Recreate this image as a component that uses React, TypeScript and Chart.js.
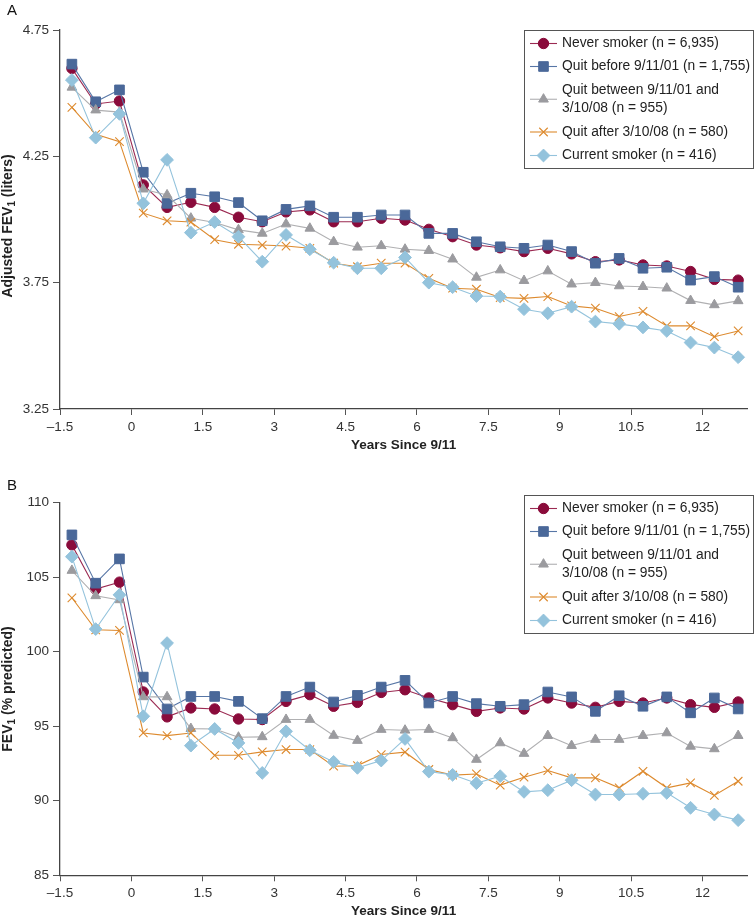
import React, { useEffect, useRef } from 'react';
import { Chart, registerables } from 'chart.js';
import { drawPoint } from 'chart.js/helpers';

Chart.register(...registerables);

const FONT = '"Liberation Sans", Arial, Helvetica, sans-serif';

// ---------- data ----------
const years = [
  -1.25, -0.75, -0.25, 0.25, 0.75, 1.25, 1.75, 2.25, 2.75, 3.25, 3.75, 4.25, 4.75, 5.25, 5.75,
  6.25, 6.75, 7.25, 7.75, 8.25, 8.75, 9.25, 9.75, 10.25, 10.75, 11.25, 11.75, 12.25, 12.75,
];

const xTickValues = [-1.5, 0, 1.5, 3, 4.5, 6, 7.5, 9, 10.5, 12];
const yTicksA = [3.25, 3.75, 4.25, 4.75];
const yTicksB = [85, 90, 95, 100, 105, 110];

const legendLabels = [
  ['Never smoker (n = 6,935)'],
  ['Quit before 9/11/01 (n = 1,755)'],
  ['Quit between 9/11/01 and', '3/10/08 (n = 955)'],
  ['Quit after 3/10/08 (n = 580)'],
  ['Current smoker (n = 416)'],
];

// y-axis titles: [before subscript, subscript, after subscript]
const yTitleA = ['Adjusted FEV', '1', ' (liters)'];
const yTitleB = ['FEV', '1', ' (% predicted)'];

// Panel A: Adjusted FEV1 (liters)
const neverA = [4.598, 4.457, 4.469, 4.137, 4.048, 4.068, 4.048, 4.009, 3.991, 4.03, 4.038, 3.991, 3.991, 4.005, 3.998, 3.961, 3.932, 3.899, 3.888, 3.873, 3.886, 3.864, 3.833, 3.84, 3.82, 3.816, 3.794, 3.763, 3.76];
const beforeA = [4.615, 4.466, 4.513, 4.187, 4.064, 4.104, 4.09, 4.067, 3.995, 4.04, 4.054, 4.009, 4.009, 4.018, 4.018, 3.945, 3.945, 3.912, 3.892, 3.886, 3.899, 3.873, 3.827, 3.846, 3.807, 3.811, 3.76, 3.774, 3.732];
const betweenA = [4.523, 4.433, 4.425, 4.12, 4.097, 4.005, 3.988, 3.959, 3.945, 3.982, 3.965, 3.912, 3.89, 3.896, 3.882, 3.877, 3.843, 3.771, 3.8, 3.758, 3.796, 3.744, 3.75, 3.737, 3.734, 3.728, 3.679, 3.662, 3.678];
const afterA = [4.444, 4.337, 4.308, 4.025, 3.995, 3.99, 3.92, 3.902, 3.899, 3.895, 3.886, 3.827, 3.813, 3.827, 3.827, 3.767, 3.728, 3.724, 3.691, 3.688, 3.695, 3.658, 3.649, 3.616, 3.636, 3.579, 3.579, 3.536, 3.559];
const currentA = [4.552, 4.324, 4.418, 4.064, 4.236, 3.948, 3.99, 3.932, 3.833, 3.939, 3.882, 3.829, 3.807, 3.807, 3.85, 3.75, 3.732, 3.697, 3.695, 3.645, 3.629, 3.655, 3.596, 3.587, 3.573, 3.559, 3.513, 3.493, 3.455];

// Panel B: FEV1 (% predicted)
const neverB = [107.17, 104.2, 104.67, 97.3, 95.63, 96.23, 96.16, 95.49, 95.45, 96.67, 97.12, 96.34, 96.6, 97.27, 97.45, 96.9, 96.45, 96.0, 96.23, 96.16, 96.9, 96.56, 96.27, 96.67, 96.56, 96.9, 96.45, 96.27, 96.63];
const beforeB = [107.84, 104.6, 106.23, 98.3, 96.16, 97.0, 97.0, 96.67, 95.51, 97.0, 97.63, 96.63, 97.07, 97.63, 98.08, 96.56, 97.0, 96.52, 96.34, 96.45, 97.3, 96.97, 96.0, 97.05, 96.34, 96.97, 95.9, 96.9, 96.16];
const betweenB = [105.45, 103.75, 103.48, 96.97, 96.97, 94.84, 94.82, 94.26, 94.29, 95.45, 95.45, 94.38, 94.04, 94.78, 94.73, 94.78, 94.22, 92.77, 93.88, 93.17, 94.37, 93.7, 94.11, 94.11, 94.37, 94.55, 93.65, 93.48, 94.37];
const afterB = [103.62, 101.47, 101.43, 94.55, 94.37, 94.55, 93.05, 93.05, 93.28, 93.44, 93.44, 92.32, 92.36, 93.1, 93.26, 92.1, 91.72, 91.8, 91.05, 91.58, 92.03, 91.54, 91.54, 90.87, 91.98, 90.87, 91.2, 90.36, 91.31];
const currentB = [106.38, 101.52, 103.82, 95.67, 100.58, 93.7, 94.82, 93.88, 91.87, 94.66, 93.39, 92.61, 92.21, 92.7, 94.15, 91.96, 91.74, 91.18, 91.65, 90.6, 90.71, 91.38, 90.42, 90.42, 90.47, 90.53, 89.53, 89.08, 88.7];

// ---------- styles ----------
const seriesStyles = [
  { pointStyle: 'circle', radius: 5.2, fill: '#8a0b3b', line: '#9b2a52', lineWidth: 1.1, bw: 1, order: 5 },
  { pointStyle: 'rect', radius: 6.8, fill: '#4a6899', line: '#5776a6', lineWidth: 1.1, bw: 1, order: 4 },
  { pointStyle: 'triangle', radius: 5.6, fill: '#9b9b9f', line: '#b0b0b2', lineWidth: 1.1, bw: 1, order: 3 },
  { pointStyle: 'crossRot', radius: 6, fill: '#dd8a2e', line: '#dd8a2e', lineWidth: 1.1, bw: 1.1, order: 2 },
  { pointStyle: 'rectRot', radius: 6.4, fill: '#94c3dc', line: '#94c3dc', lineWidth: 1.1, bw: 1, order: 1 },
];

function fmtTick(v: number): string {
  return v < 0 ? '\u2013' + String(Math.abs(v)) : String(v);
}

function buildDatasets(series: number[][]) {
  return series.map((vals, i) => {
    const st = seriesStyles[i];
    return {
      label: legendLabels[i].join(' '),
      data: vals.map((v, j) => ({ x: years[j], y: v })),
      borderColor: st.line,
      borderWidth: st.lineWidth,
      backgroundColor: st.fill,
      pointStyle: st.pointStyle,
      pointRadius: st.radius,
      pointBackgroundColor: st.fill,
      pointBorderColor: st.fill,
      pointBorderWidth: st.bw,
      order: st.order,
      tension: 0,
      fill: false,
    };
  });
}

const boxLegendPlugin = {
  id: 'boxLegend',
  afterDraw(chart: any, _args: any, opts: any) {
    const ctx = chart.ctx as CanvasRenderingContext2D;
    ctx.save();
    // panel letter
    ctx.fillStyle = '#111';
    ctx.font = `15px ${FONT}`;
    ctx.textBaseline = 'alphabetic';
    ctx.textAlign = 'left';
    ctx.fillText(opts.letter, 7, opts.letterY);

    // y-axis title with subscript
    const parts: string[] = opts.yTitle;
    const mainFont = `bold 14px ${FONT}`;
    const subFont = `bold 10px ${FONT}`;
    ctx.font = mainFont;
    const w0 = ctx.measureText(parts[0]).width;
    const w2 = ctx.measureText(parts[2]).width;
    ctx.font = subFont;
    const w1 = ctx.measureText(parts[1]).width;
    const total = w0 + w1 + w2;
    ctx.save();
    ctx.translate(opts.yTitleX, opts.yTitleCY);
    ctx.rotate(-Math.PI / 2);
    ctx.fillStyle = '#222';
    ctx.textBaseline = 'middle';
    let cx = -total / 2;
    ctx.font = mainFont;
    ctx.fillText(parts[0], cx, 0);
    cx += w0;
    ctx.font = subFont;
    ctx.fillText(parts[1], cx, 4);
    cx += w1;
    ctx.font = mainFont;
    ctx.fillText(parts[2], cx, 0);
    ctx.restore();

    const bx = 524.5;
    const bw = 229;
    const by = opts.top + 0.5;
    const bh = 138;
    ctx.fillStyle = '#ffffff';
    ctx.fillRect(bx, by, bw, bh);
    ctx.strokeStyle = '#555';
    ctx.lineWidth = 1;
    ctx.strokeRect(bx, by, bw, bh);

    const rowY = [13, 36, 60, 101.5, 125];
    const lineGap = 17.5;
    chart.data.datasets.forEach((_ds: any, i: number) => {
      const st = seriesStyles[i];
      const lines = legendLabels[i];
      const textTop = by + rowY[i];
      const my = textTop + ((lines.length - 1) * lineGap) / 2;
      ctx.strokeStyle = st.line;
      ctx.lineWidth = st.lineWidth;
      ctx.beginPath();
      ctx.moveTo(530, my);
      ctx.lineTo(557, my);
      ctx.stroke();
      ctx.fillStyle = st.fill;
      ctx.strokeStyle = st.fill;
      ctx.lineWidth = st.bw;
      drawPoint(ctx, { pointStyle: st.pointStyle, radius: st.radius, rotation: 0, borderWidth: st.bw } as any, 543.5, my);
      ctx.fillStyle = '#222';
      ctx.font = `13.8px ${FONT}`;
      ctx.textBaseline = 'middle';
      ctx.textAlign = 'left';
      lines.forEach((t, k) => ctx.fillText(t, 562, textTop + k * lineGap));
    });
    ctx.restore();
  },
};

function makeOptions(cfg: any) {
  return {
    animation: false,
    responsive: false,
    events: [],
    layout: { padding: { left: 0, top: cfg.padTop, right: 5, bottom: 0 } },
    plugins: {
      legend: { display: false },
      tooltip: { enabled: false },
      boxLegend: {
        top: cfg.legendTop, letter: cfg.letter, letterY: cfg.letterY,
        yTitle: cfg.yTitle, yTitleX: 8.5, yTitleCY: cfg.yTitleCY,
      },
    },
    scales: {
      x: {
        type: 'linear',
        min: -1.5,
        max: 12.94,
        afterBuildTicks: (s: any) => { s.ticks = xTickValues.map((v) => ({ value: v })); },
        afterFit: (s: any) => { s.height = cfg.xAxisH; },
        grid: { display: true, drawOnChartArea: false, drawTicks: true, tickLength: 6, color: '#555', lineWidth: 1 },
        border: { display: true, color: '#444', width: 1.3 },
        ticks: {
          color: '#333', font: { size: 13.5, family: FONT }, padding: 4,
          maxRotation: 0, autoSkip: false, callback: (v: any) => fmtTick(Number(v)),
        },
        title: {
          display: true, text: 'Years Since 9/11', color: '#222',
          font: { size: 13.5, weight: 'bold', family: FONT }, padding: { top: 0, bottom: cfg.titlePB },
        },
      },
      y: {
        type: 'linear',
        min: cfg.yMin,
        max: cfg.yMax,
        afterBuildTicks: (s: any) => { s.ticks = cfg.yTicks.map((v: number) => ({ value: v })); },
        afterFit: (s: any) => { s.width = 60; },
        grid: { display: true, drawOnChartArea: false, drawTicks: true, tickLength: 7, color: '#555', lineWidth: 1 },
        border: { display: true, color: '#444', width: 1.3 },
        ticks: {
          color: '#333', font: { size: 13.5, family: FONT }, padding: 4,
          callback: (v: any) => fmtTick(Number(v)),
        },
        title: { display: false },
      },
    },
  };
}

function Panel(props: { series: number[][]; cfg: any; height: number }) {
  const ref = useRef<HTMLCanvasElement | null>(null);
  useEffect(() => {
    if (!ref.current) return;
    const chart = new Chart(ref.current, {
      type: 'line',
      data: { datasets: buildDatasets(props.series) as any },
      options: makeOptions(props.cfg) as any,
      plugins: [boxLegendPlugin],
    });
    return () => chart.destroy();
  }, []);
  return <canvas ref={ref} width={755} height={props.height} style={{ display: 'block', width: 755, height: props.height }} />;
}

export default function App() {
  return (
    <div style={{ position: 'absolute', left: 0, top: 0, width: 755, height: 919, background: '#fff', overflow: 'hidden' }}>
      <Panel
        height={460}
        series={[neverA, beforeA, betweenA, afterA, currentA]}
        cfg={{
          yMin: 3.25, yMax: 4.75, yTicks: yTicksA, yTitle: yTitleA, yTitleCY: 226,
          padTop: 30, xAxisH: 51, titlePB: 6.9, legendTop: 30, letter: 'A', letterY: 15,
        }}
      />
      <Panel
        height={459}
        series={[neverB, beforeB, betweenB, afterB, currentB]}
        cfg={{
          yMin: 85, yMax: 110, yTicks: yTicksB, yTitle: yTitleB, yTitleCY: 229,
          padTop: 42.7, xAxisH: 43.7, titlePB: 0, legendTop: 35, letter: 'B', letterY: 30,
        }}
      />
    </div>
  );
}
